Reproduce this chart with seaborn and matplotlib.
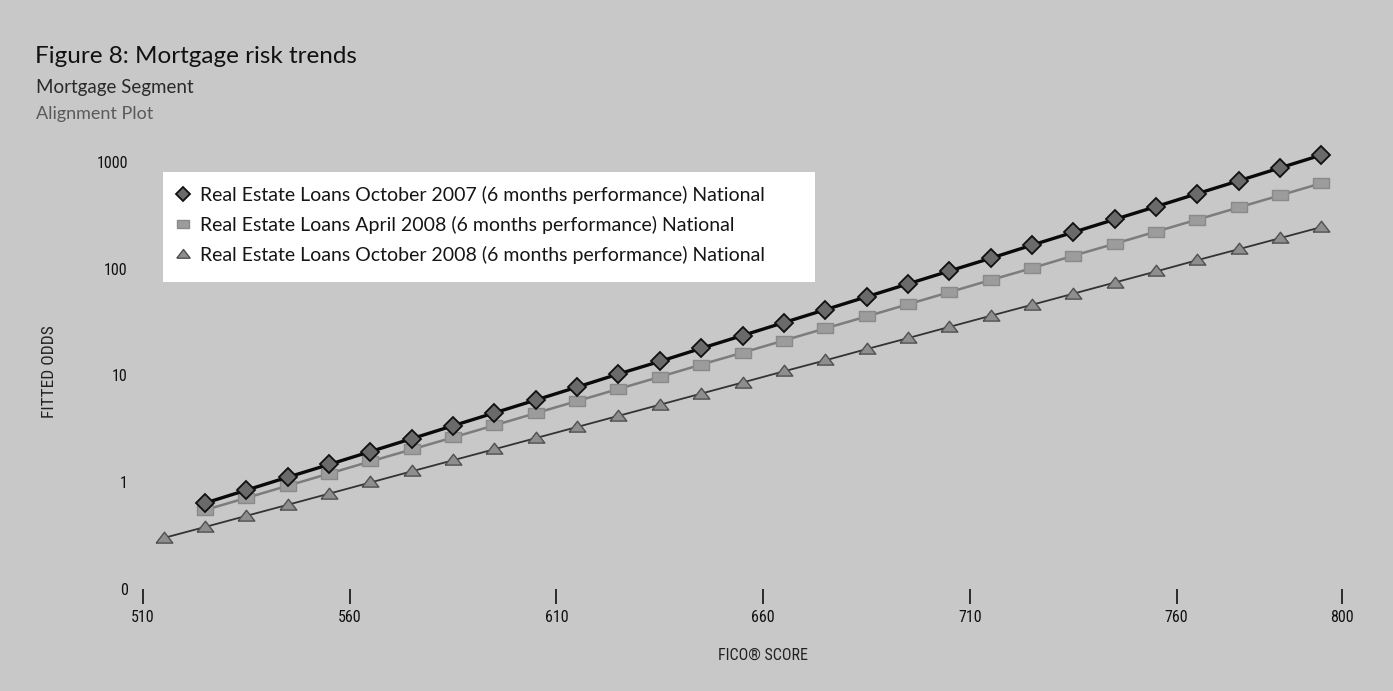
import matplotlib
matplotlib.use("Agg")
import matplotlib.pyplot as plt
from matplotlib import font_manager as fm
from matplotlib.lines import Line2D
from matplotlib.patches import Rectangle
import pandas as pd
import seaborn as sns

# ---- data -------------------------------------------------------------
fico_oct07 = [525, 535, 545, 555, 565, 575, 585, 595, 605, 615, 625, 635, 645, 655,
              665, 675, 685, 695, 705, 715, 725, 735, 745, 755, 765, 775, 785, 795]
odds_oct07 = [0.635, 0.84, 1.11, 1.46, 1.93, 2.55, 3.37, 4.45, 5.87, 7.76, 10.3, 13.5,
              17.9, 23.6, 31.2, 41.2, 54.4, 71.9, 94.9, 125, 166, 219, 289, 381, 504,
              665, 879, 1160]

fico_apr08 = [525, 535, 545, 555, 565, 575, 585, 595, 605, 615, 625, 635, 645, 655,
              665, 675, 685, 695, 705, 715, 725, 735, 745, 755, 765, 775, 785, 795]
odds_apr08 = [0.547, 0.71, 0.923, 1.20, 1.56, 2.02, 2.62, 3.40, 4.42, 5.74, 7.45, 9.67,
              12.6, 16.3, 21.2, 27.5, 35.6, 46.3, 60.1, 78.1, 101, 132, 171, 222, 288,
              374, 486, 631]

fico_oct08 = [515, 525, 535, 545, 555, 565, 575, 585, 595, 605, 615, 625, 635, 645, 655,
              665, 675, 685, 695, 705, 715, 725, 735, 745, 755, 765, 775, 785, 795]
odds_oct08 = [0.299, 0.379, 0.482, 0.612, 0.778, 0.99, 1.26, 1.60, 2.03, 2.58, 3.28,
              4.17, 5.30, 6.74, 8.56, 10.9, 13.8, 17.6, 22.3, 28.4, 36.1, 45.8, 58.2,
              74.0, 94.0, 120, 152, 193, 245]

series_labels = [
    "Real Estate Loans October 2007 (6 months performance) National",
    "Real Estate Loans April 2008 (6 months performance) National",
    "Real Estate Loans October 2008 (6 months performance) National",
]

x_ticks = [510, 560, 610, 660, 710, 760, 800]
y_ticks = [0.1, 1, 10, 100, 1000]
y_tick_labels = ["0", "1", "10", "100", "1000"]

# ---- fonts ------------------------------------------------------------
sns.set_style("white")
available = {f.name for f in fm.fontManager.ttflist}


def first_font(candidates, fallback):
    for name in candidates:
        if name in available:
            return name
    return fallback


text_font = first_font(["Lato", "Open Sans", "Noto Sans"], "DejaVu Sans")
narrow_font = first_font(["Liberation Sans Narrow", "Roboto Condensed",
                          "Open Sans Condensed", "Roboto"], text_font)
plt.rcParams["font.family"] = [text_font, "DejaVu Sans"]

BG = "#c8c8c8"
W, H = 1393, 691

# ---- figure -----------------------------------------------------------
fig = plt.figure(figsize=(13.93, 6.91), dpi=100, facecolor=BG)
ax = fig.add_axes([0.1027, 0.1480, 0.8755, 0.6492])
ax.set_facecolor("none")

rect_marker = [(-1, -0.62), (1, -0.62), (1, 0.62), (-1, 0.62), (-1, -0.62)]
tri_marker = [(-1, -0.55), (1, -0.55), (0, 0.75), (-1, -0.55)]

styles = [
    dict(x=fico_oct07, y=odds_oct07, color="#0a0a0a", lw=2.4, marker="D", ms=9.5,
         mfc="#6a6a6a", mec="#101010", mew=1.3),
    dict(x=fico_apr08, y=odds_apr08, color="#7c7c7c", lw=1.8, marker=rect_marker, ms=11.5,
         mfc="#9c9c9c", mec="#8a8a8a", mew=1.0),
    dict(x=fico_oct08, y=odds_oct08, color="#333333", lw=1.3, marker=tri_marker, ms=12,
         mfc="#8e8e8e", mec="#505050", mew=1.0),
]

for st in styles[::-1]:
    df = pd.DataFrame({"fico": st["x"], "odds": st["y"]})
    sns.lineplot(data=df, x="fico", y="odds", ax=ax, color=st["color"],
                 linewidth=st["lw"], marker=st["marker"], markersize=st["ms"],
                 markerfacecolor=st["mfc"], markeredgecolor=st["mec"],
                 markeredgewidth=st["mew"], errorbar=None, legend=False)

ax.set_yscale("log")
ax.set_xlim(510, 805)
ax.set_ylim(0.1, 1600)
ax.set_xticks(x_ticks)
ax.set_xticklabels([str(v) for v in x_ticks])
ax.set_yticks(y_ticks)
ax.set_yticklabels(y_tick_labels)
ax.yaxis.set_minor_locator(matplotlib.ticker.NullLocator())
ax.xaxis.set_minor_locator(matplotlib.ticker.NullLocator())
for s in ax.spines.values():
    s.set_visible(False)
ax.grid(False)
ax.set_xlabel("")
ax.set_ylabel("")

ax.tick_params(axis="x", bottom=True, direction="out", length=10.5, width=1.2,
               color="#111111", pad=5, labelsize=11.5, labelcolor="#111111")
ax.tick_params(axis="y", left=False, length=0, pad=11, labelsize=11.5,
               labelcolor="#111111")
for lab in ax.get_xticklabels() + ax.get_yticklabels():
    lab.set_family([narrow_font, "DejaVu Sans"])

# ---- legend on a white panel --------------------------------------------
panel = Rectangle((163 / W, 1 - 282 / H), (815 - 163) / W, (282 - 172) / H,
                  transform=fig.transFigure, facecolor="white", edgecolor="none",
                  zorder=-1)
fig.patches.append(panel)

handles = [
    Line2D([], [], linestyle="none", marker=st["marker"], markersize=st["ms"] * 0.8,
           markerfacecolor=st["mfc"], markeredgecolor=st["mec"], markeredgewidth=st["mew"])
    for st in styles
]
leg = ax.legend(handles, series_labels, loc="upper left",
                bbox_to_anchor=(175 / W, 1 - 186 / H), bbox_transform=fig.transFigure,
                borderaxespad=0, frameon=False, fontsize=14.0,
                handlelength=0.8, handletextpad=0.5, labelspacing=0.62,
                borderpad=0.0)
for t in leg.get_texts():
    t.set_color("#151515")

# ---- titles and axis labels -------------------------------------------
fig.text(35 / W, 1 - 63 / H, "Figure 8: Mortgage risk trends", fontsize=17.5,
         color="#111111", ha="left", va="baseline")
fig.text(36 / W, 1 - 93 / H, "Mortgage Segment", fontsize=13.5,
         color="#2a2a2a", ha="left", va="baseline")
fig.text(36 / W, 1 - 119 / H, "Alignment Plot", fontsize=13,
         color="#5a5a5a", ha="left", va="baseline")

fig.text(50 / W, 1 - 372 / H, "FITTED ODDS", rotation=90, fontsize=12.5,
         color="#222222", ha="center", va="center", family=[narrow_font, "DejaVu Sans"])
fig.text(763 / W, 1 - 655 / H, "FICO® SCORE", fontsize=11.5, color="#222222",
         ha="center", va="center", family=[narrow_font, "DejaVu Sans"])

fig.savefig("out.png", dpi=100, facecolor=BG)
